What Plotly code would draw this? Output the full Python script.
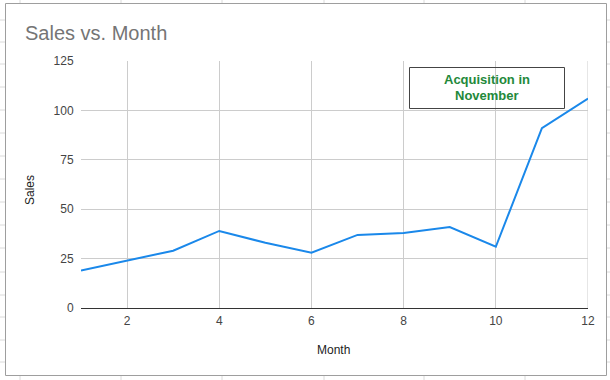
import plotly.graph_objects as go

# ---- data ----
months = [1, 2, 3, 4, 5, 6, 7, 8, 9, 10, 11, 12]
sales = [19, 24, 29, 39, 33, 28, 37, 38, 41, 31, 91, 106]
x_ticks = [2, 4, 6, 8, 10, 12]
y_ticks = [0, 25, 50, 75, 100, 125]

title_text = "Sales vs. Month"
x_title = "Month"
y_title = "Sales"
note_lines = ["Acquisition in", "November"]

# ---- layout geometry (pixels) ----
W, H = 610, 380
L, R, T, B = 81, 588, 61, 308


def px(x):
    return (x - L) / (R - L)


def py(y):
    return (B - y) / (B - T)


FONT = "Arial, Liberation Sans, sans-serif"

fig = go.Figure()
fig.add_trace(go.Scatter(
    x=months, y=sales, mode="lines",
    line=dict(color="#1a88ea", width=2),
    hoverinfo="x+y", showlegend=False,
))

shapes = []
# spreadsheet grid behind the chart
sheet_rows = [20, 42, 64, 87, 110, 133, 156, 179, 202, 225, 248, 272, 295, 317, 340, 362]
sheet_cols = [20, 121, 222, 324, 424, 525]
for r in sheet_rows:
    shapes.append(dict(type="line", xref="paper", yref="paper",
                       x0=px(0), x1=px(W), y0=py(r), y1=py(r),
                       line=dict(color="#dadada", width=1), layer="below"))
for c in sheet_cols:
    shapes.append(dict(type="line", xref="paper", yref="paper",
                       x0=px(c), x1=px(c), y0=py(0), y1=py(H),
                       line=dict(color="#dadada", width=1), layer="below"))
# chart card
shapes.append(dict(type="rect", xref="paper", yref="paper",
                   x0=px(5.5), x1=px(606.5), y0=py(3.5), y1=py(375.5),
                   fillcolor="white", line=dict(color="#9e9e9e", width=1),
                   layer="below"))
# gridline at the right edge (last x tick)
shapes.append(dict(type="line", xref="x", yref="paper",
                   x0=x_ticks[-1], x1=x_ticks[-1], y0=0, y1=1,
                   line=dict(color="#cccccc", width=1), layer="below"))
# annotation box
shapes.append(dict(type="rect", xref="paper", yref="paper",
                   x0=px(409.5), x1=px(564.5), y0=py(67.5), y1=py(108.5),
                   fillcolor="rgba(0,0,0,0)", line=dict(color="#444444", width=1),
                   layer="above"))

annotations = [
    dict(text="<b>%s</b>" % note_lines[0], xref="paper", yref="paper",
         x=px(487), y=py(80), showarrow=False, xanchor="center", yanchor="middle",
         font=dict(family=FONT, size=13, color="#23893a")),
    dict(text="<b>%s</b>" % note_lines[1], xref="paper", yref="paper",
         x=px(487), y=py(95.5), showarrow=False, xanchor="center", yanchor="middle",
         font=dict(family=FONT, size=13, color="#23893a")),
    dict(text=y_title, xref="paper", yref="paper", x=px(30), y=py(190),
         showarrow=False, textangle=-90, xanchor="center", yanchor="middle",
         font=dict(family=FONT, size=12, color="#222222")),
    dict(text=x_title, xref="paper", yref="paper", x=px(333), y=py(350),
         showarrow=False, xanchor="center", yanchor="middle",
         font=dict(family=FONT, size=12, color="#222222")),
]

fig.update_layout(
    width=W, height=H,
    margin=dict(l=L, r=W - R, t=T, b=H - B, pad=0),
    paper_bgcolor="white", plot_bgcolor="rgba(0,0,0,0)",
    title=dict(text=title_text, xref="container", yref="container",
               x=25 / W, xanchor="left", y=1 - 33 / H, yanchor="middle",
               font=dict(family=FONT, size=20, color="#757575")),
    shapes=shapes, annotations=annotations,
    font=dict(family=FONT),
    xaxis=dict(range=[1, 12], tickvals=x_ticks, showgrid=True,
               gridcolor="#cccccc", gridwidth=1, zeroline=False,
               showline=True, linecolor="#333333", linewidth=1.2,
               ticks="outside", ticklen=1, tickcolor="rgba(0,0,0,0)",
               tickfont=dict(family=FONT, size=12, color="#444444")),
    yaxis=dict(range=[0, 125], tickvals=y_ticks, showgrid=True,
               gridcolor="#cccccc", gridwidth=1, zeroline=False,
               showline=False,
               ticks="outside", ticklen=4, tickcolor="rgba(0,0,0,0)",
               tickfont=dict(family=FONT, size=12, color="#444444")),
)

fig.write_html(
    "out.html",
    config={"displayModeBar": False},
    post_script="document.body.style.margin='0';document.body.style.overflow='hidden';",
)
